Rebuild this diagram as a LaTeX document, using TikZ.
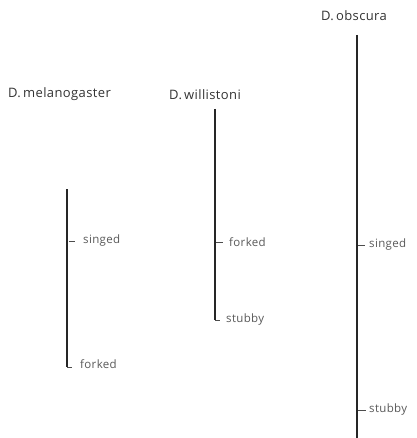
\documentclass[tikz,border=0pt]{standalone}
\usepackage{fontspec}
\setmainfont{Open Sans}[LetterSpace=3]
\begin{document}
\begin{tikzpicture}[x=1pt,y=-1pt,
  chrom/.style={line width=1.1pt,black!85},
  tick/.style={line width=0.5pt,black!70},
  species/.style={font=\fontsize{13}{14}\selectfont,text=black!80,inner sep=0pt},
  locus/.style={font=\fontsize{11.5}{12}\selectfont,text=black!65,inner sep=0pt,anchor=west}]
\useasboundingbox (0,0) rectangle (416,438);
% species names
\node[species] (mel) at (59.5,94) {D.\,melanogaster};
\node[species] (wil) at (205,95) {D.\,willistoni};
\node[species] (obs) at (354,16) {D.\,obscura};
% chromosome lines
\coordinate (m1) at (67,189);
\coordinate (m2) at (67,367);
\coordinate (w1) at (215,109);
\coordinate (w2) at (215,320);
\coordinate (o1) at (357,35);
\coordinate (o2) at (357,438);
\draw[chrom] (m1) -- (m2);
\draw[chrom] (w1) -- (w2);
\draw[chrom] (o1) -- (o2);
% loci
\node[locus] (ms) at (83,241) {singed};
\node[locus] (mf) at (80,364) {forked};
\node[locus] (wf) at (229,242) {forked};
\node[locus] (ws) at (226,320) {stubby};
\node[locus] (os) at (369,245) {singed};
\node[locus] (ost) at (369,410) {stubby};
\coordinate (msT) at (75,241);
\coordinate (wfT) at (223,242);
\coordinate (osT) at (365,245);
\coordinate (ostT) at (366,410);
\draw[tick] (69,241) -- (msT);
\draw[tick] (m2) -- (72,367);
\draw[tick] (216,242) -- (wfT);
\draw[tick] (w2) -- (220,320);
\draw[tick] (358,245) -- (osT);
\draw[tick] (358,410) -- (ostT);
\end{tikzpicture}
\end{document}
